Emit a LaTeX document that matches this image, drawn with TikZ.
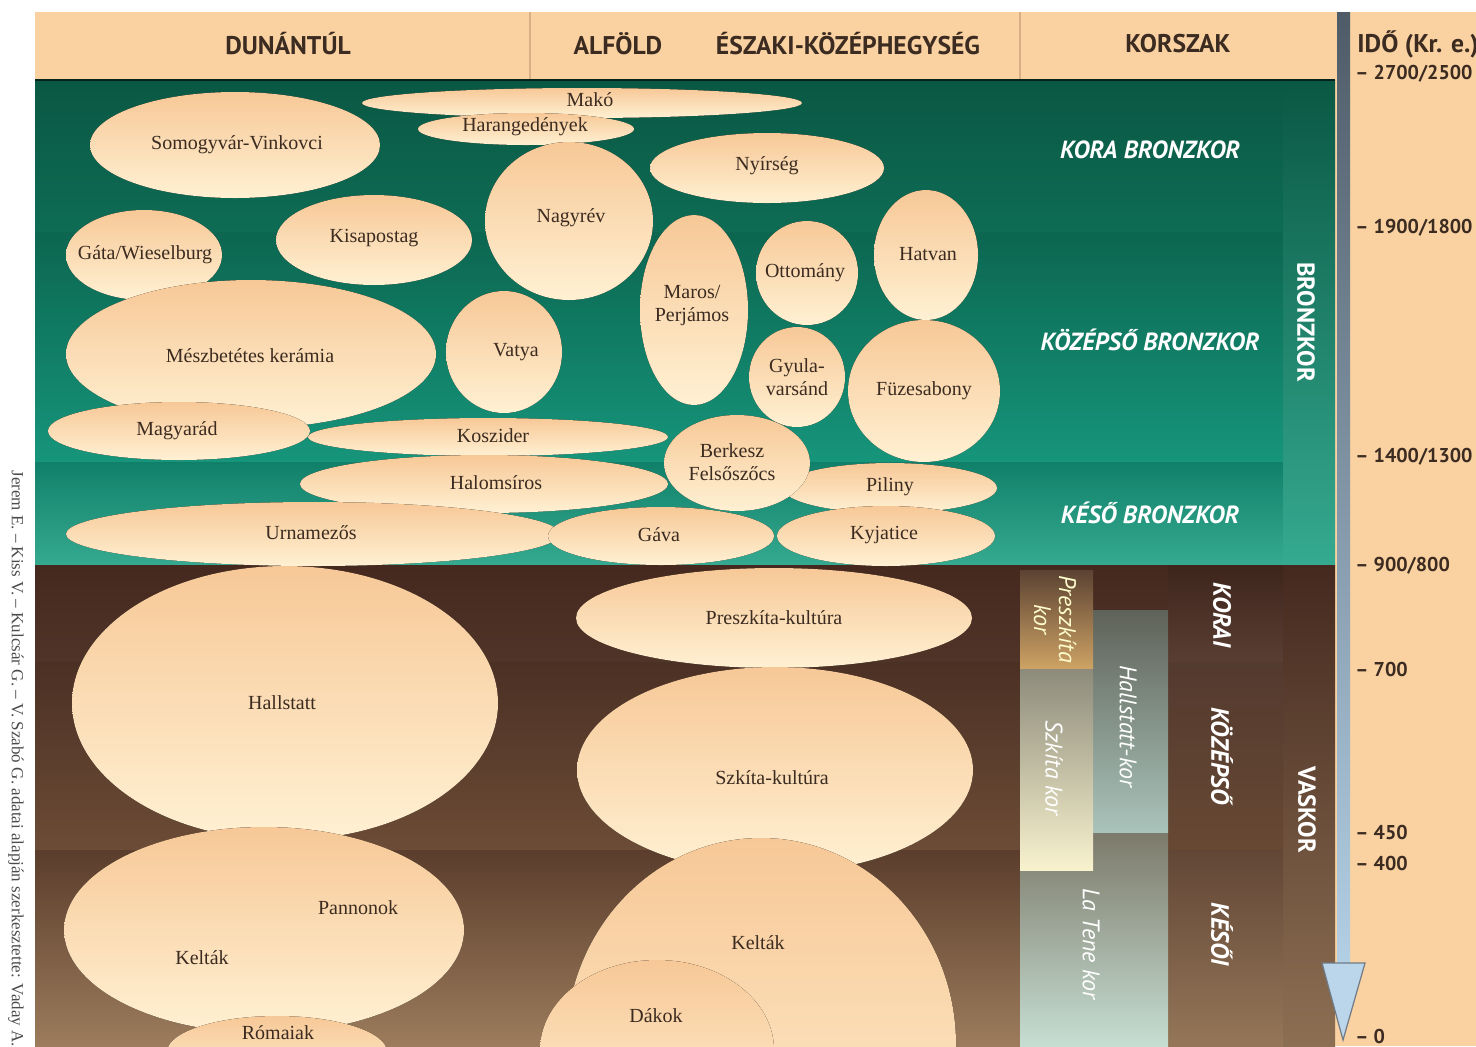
\documentclass[tikz,border=0pt]{standalone}
\usepackage{fontspec}
\setmainfont{Liberation Serif}
\newfontfamily\optfont{PT Sans}
\definecolor{peach}{HTML}{FAD2A2}
\definecolor{peachline}{HTML}{D8B088}
\definecolor{ink}{HTML}{3B2B20}
\definecolor{culTop}{HTML}{F7C897}
\definecolor{culBot}{HTML}{FFF1D3}
\definecolor{brA1}{HTML}{0A5844}
\definecolor{brA2}{HTML}{0E6C54}
\definecolor{brB1}{HTML}{0C6650}
\definecolor{brB2}{HTML}{16957B}
\definecolor{brC1}{HTML}{11806A}
\definecolor{brC2}{HTML}{35AA90}
\definecolor{irA1}{HTML}{45291F}
\definecolor{irA2}{HTML}{503428}
\definecolor{irB1}{HTML}{4B3024}
\definecolor{irB2}{HTML}{6C4C36}
\definecolor{irC1}{HTML}{5A3D2C}
\definecolor{irC2}{HTML}{9C7C5C}
\definecolor{latTop}{HTML}{7C7A6A}
\definecolor{latBot}{HTML}{C6DED2}
\definecolor{halTop}{HTML}{5F6258}
\definecolor{halBot}{HTML}{A9C3BA}
\definecolor{szkTop}{HTML}{8C8A7A}
\definecolor{szkBot}{HTML}{F8F2CE}
\definecolor{preTop}{HTML}{5B4232}
\definecolor{preBot}{HTML}{CDA264}
\definecolor{axisTop}{HTML}{4F5B67}
\definecolor{axisBot}{HTML}{B3CFE4}
\definecolor{axisHead}{HTML}{BBD6EA}
\definecolor{axisEdge}{HTML}{6F7A86}
\begin{document}
\begin{tikzpicture}[x=0.5pt,y=-0.5pt,
  culture/.style={top color=culTop,bottom color=culBot},
  cultlbl/.style={text=ink,font=\fontsize{10}{11.5}\selectfont,align=center,inner sep=1pt},
  headtext/.style={text=ink,font=\optfont\bfseries\fontsize{12.8}{14}\selectfont},
  periodtext/.style={text=white,font=\optfont\bfseries\itshape\fontsize{12.4}{14}\selectfont},
  agetext/.style={text=white,font=\optfont\bfseries\fontsize{12.3}{14}\selectfont,rotate=-90},
  phasetext/.style={text=white,font=\optfont\bfseries\itshape\fontsize{12.5}{14}\selectfont,rotate=-90},
  subtext/.style={text=white,font=\optfont\itshape\fontsize{12}{12.5}\selectfont,rotate=-90,align=center},
  ticklbl/.style={text=ink,font=\optfont\bfseries\fontsize{10}{12}\selectfont,anchor=west,inner sep=0pt},
]
\useasboundingbox (0,0) rectangle (1476,1046);
\fill[white] (0,0) rectangle (1476,1046);

% header and time column
\fill[peach] (35,12) rectangle (1476,80);
\fill[peach] (1335,80) rectangle (1476,1046);
\draw[peachline,line width=0.6pt] (530,12) -- (530,80);
\draw[peachline,line width=0.6pt] (1020,12) -- (1020,80);
\node[headtext] (dunantul) at (288,44) {DUNÁNTÚL};
\node[headtext] (alfold) at (618,44) {ALFÖLD};
\node[headtext] (eszaki) at (848,44) {ÉSZAKI-KÖZÉPHEGYSÉG};
\node[headtext] (korszak) at (1178,44) {KORSZAK};
\node[headtext,anchor=west,inner sep=0pt] (ido) at (1357,44) {IDŐ (Kr. e.)};

% bronze age bands
\fill[top color=brA1,bottom color=brA2] (35,80) rectangle (1283,232);
\fill[top color=brB1,bottom color=brB2] (35,232) rectangle (1283,462);
\fill[top color=brC1,bottom color=brC2] (35,462) rectangle (1283,565);
\fill[top color=brA1,bottom color=brC2] (1283,80) rectangle (1335,565);
\draw[black!60!brA1,line width=1pt] (35,80) -- (1335,80);

% iron age bands
\fill[top color=irA1,bottom color=irA2] (35,565) rectangle (1283,662);
\fill[top color=irB1,bottom color=irB2] (35,662) rectangle (1283,850);
\fill[top color=irC1,bottom color=irC2] (35,850) rectangle (1283,1046);
\fill[top color=irA1,bottom color=irC2!90!black] (1283,565) rectangle (1335,1046);

% korszak boxes
\fill[top color=irA1!90!black,bottom color=irA2!95!white] (1168,565) rectangle (1283,662);
\fill[top color=irB1!95!white,bottom color=irB2!95!black] (1168,662) rectangle (1283,850);
\fill[top color=irC1!95!white,bottom color=irC2!95!black] (1168,850) rectangle (1283,1046);
\fill[top color=latTop,bottom color=latBot] (1020,832) rectangle (1168,1046);
\fill[top color=halTop,bottom color=halBot] (1093,610) rectangle (1168,832);
\fill[top color=szkTop,bottom color=szkBot] (1020,668) rectangle (1093,870);
\fill[top color=preTop,bottom color=preBot] (1020,570) rectangle (1093,668);

\node[periodtext] (kora) at (1150,150) {KORA BRONZKOR};
\node[periodtext] (kozepso) at (1150,340) {KÖZÉPSŐ BRONZKOR};
\node[periodtext] (keso) at (1150,513) {KÉSŐ BRONZKOR};
\node[agetext] (bronzkor) at (1306,322) {BRONZKOR};
\node[agetext] (vaskor) at (1307,810) {VASKOR};
\node[phasetext] (korai) at (1222,615) {KORAI};
\node[phasetext] (kozep) at (1222,756) {KÖZÉPSŐ};
\node[phasetext] (kesoi) at (1222,934) {KÉSŐI};
\node[subtext,text=yellow!20!white] (preszkor) at (1055,619) {Preszkíta\\kor};
\node[subtext] (szkitakor) at (1054,768) {Szkíta kor};
\node[subtext] (hallkor) at (1128,726) {Hallstatt-kor};
\node[subtext] (latene) at (1091,944) {La Tene kor};

% bronze age cultures
\fill[culture] (582,103) ellipse [x radius=220,y radius=15];
\node[cultlbl] (mako) at (590,100) {Makó};
\fill[culture] (526,129) ellipse [x radius=108,y radius=16];
\node[cultlbl] (harang) at (525,127) {Harangedények};
\fill[culture] (235,145) ellipse [x radius=145,y radius=53];
\node[cultlbl] (somogy) at (237,145) {Somogyvár-Vinkovci};
\fill[culture] (767,168) ellipse [x radius=117,y radius=35];
\node[cultlbl] (nyirseg) at (767,166) {Nyírség};
\fill[culture] (569,221) ellipse [x radius=84,y radius=79];
\node[cultlbl] (nagyrev) at (571,218) {Nagyrév};
\fill[culture] (374,240) ellipse [x radius=98,y radius=45];
\node[cultlbl] (kisapostag) at (374,238) {Kisapostag};
\fill[culture] (144,255) ellipse [x radius=78,y radius=45];
\node[cultlbl] (gata) at (145,255) {Gáta/Wieselburg};
\fill[culture] (926,255) ellipse [x radius=52,y radius=65];
\node[cultlbl] (hatvan) at (928,254) {Hatvan};
\fill[culture] (807,273) ellipse [x radius=51,y radius=52];
\node[cultlbl] (ottomany) at (805,273) {Ottomány};
\fill[culture] (694,310) ellipse [x radius=54,y radius=95];
\node[cultlbl] (maros) at (692,306) {Maros/\\Perjámos};
\fill[culture] (251,354) ellipse [x radius=185,y radius=74];
\node[cultlbl] (meszbet) at (250,356) {Mészbetétes kerámia};
\fill[culture] (504,352) ellipse [x radius=58,y radius=61];
\node[cultlbl] (vatya) at (516,352) {Vatya};
\fill[culture] (797,377) ellipse [x radius=48,y radius=50];
\node[cultlbl] (gyula) at (797,377) {Gyula-\\varsánd};
\fill[culture] (924,391) ellipse [x radius=76,y radius=71];
\node[cultlbl] (fuzes) at (924,391) {Füzesabony};
\fill[culture] (179,431) ellipse [x radius=131,y radius=29];
\node[cultlbl] (magyarad) at (177,431) {Magyarád};
\fill[culture] (488,437) ellipse [x radius=180,y radius=19];
\node[cultlbl] (koszider) at (493,436) {Koszider};
\fill[culture] (484,484) ellipse [x radius=184,y radius=29];
\node[cultlbl] (halom) at (496,483) {Halomsíros};
\fill[culture] (890,488) ellipse [x radius=107,y radius=25];
\node[cultlbl] (piliny) at (890,487) {Piliny};
\fill[culture] (737,463) ellipse [x radius=73,y radius=48];
\node[cultlbl] (berkesz) at (732,462) {Berkesz\\Felsőszőcs};
\fill[culture] (313,534) ellipse [x radius=247,y radius=32];
\node[cultlbl] (urna) at (311,533) {Urnamezős};
\fill[culture] (661,536) ellipse [x radius=113,y radius=29];
\node[cultlbl] (gava) at (659,535) {Gáva};
\fill[culture] (886,536) ellipse [x radius=109,y radius=30];
\node[cultlbl] (kyjatice) at (884,535) {Kyjatice};

% iron age cultures
\fill[culture] (285,703) ellipse [x radius=213,y radius=137];
\node[cultlbl] (hallstatt) at (282,703) {Hallstatt};
\fill[culture] (774,618) ellipse [x radius=198,y radius=50];
\node[cultlbl] (preszk) at (774,618) {Preszkíta-kultúra};
\fill[culture] (775,770) ellipse [x radius=198,y radius=103];
\node[cultlbl] (szkita) at (772,778) {Szkíta-kultúra};
\fill[culture] (264,930) ellipse [x radius=200,y radius=103];
\node[cultlbl] (pannon) at (358,908) {Pannonok};
\node[cultlbl] (keltaW) at (202,958) {Kelták};
\fill[culture] (277,1052) ellipse [x radius=110,y radius=36];
\node[cultlbl] (romai) at (278,1033) {Rómaiak};
\fill[culture] (761,1045) ellipse [x radius=195,y radius=207];
\node[cultlbl] (keltaE) at (758,943) {Kelták};
\fill[culture] (657,1050) ellipse [x radius=117,y radius=90];
\node[cultlbl] (dakok) at (656,1016) {Dákok};

% time axis
\fill[top color=axisTop,bottom color=axisBot] (1337,12) rectangle (1350,963);
\filldraw[fill=axisHead,draw=axisEdge,line width=0.6pt] (1322,963) -- (1365,963) -- (1343,1040) -- cycle;
\node[ticklbl] (t2700) at (1355,74) {– 2700/2500};
\node[ticklbl] (t1900) at (1355,228) {– 1900/1800};
\node[ticklbl] (t1400) at (1355,457) {– 1400/1300};
\node[ticklbl] (t900) at (1355,566) {– 900/800};
\node[ticklbl] (t700) at (1355,669) {– 700};
\node[ticklbl] (t450) at (1355,832) {– 450};
\node[ticklbl] (t400) at (1355,863) {– 400};
\node[ticklbl] (t0) at (1355,1036) {– 0};

% credit
\node[rotate=-90,anchor=west,text=black!70,font=\fontsize{8.5}{10}\selectfont,inner sep=0pt] (credit) at (16,470) {Jerem E. – Kiss V. – Kulcsár G. – V. Szabó G. adatai alapján szerkesztette: Vaday A.};
\end{tikzpicture}
\end{document}
